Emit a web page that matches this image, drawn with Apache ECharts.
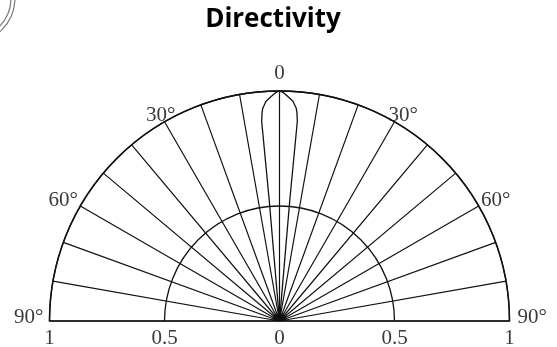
<!DOCTYPE html>
<html>
<head>
<meta charset="utf-8">
<script src="https://cdn.jsdelivr.net/npm/echarts@6/dist/echarts.min.js"></script>
<style>
html,body{margin:0;padding:0;background:#fff;}
#chart{width:557px;height:347px;}
</style>
</head>
<body>
<div id="chart"></div>
<script>
// Directivity lobe: angle from broadside (degrees) and normalized gain
const lobeAngles = [-4.4, -4.87, -5.1, -4.8, -4.5, -3.5, -2.13, -1.0, 0, 1.0, 2.13, 3.5, 4.5, 4.8, 5.1, 4.87, 4.4];
const lobeGain   = [0, 0.53, 0.872, 0.907, 0.928, 0.957, 0.977, 0.993, 1, 0.993, 0.977, 0.957, 0.928, 0.907, 0.872, 0.53, 0];

// Tick labels
const angleTickValues = [-90, -60, -30, 0, 30, 60, 90];
const angleTickLabels = ['90°', '60°', '30°', '0', '30°', '60°', '90°'];
const radiusTickValues = [0, 0.5, 1];
const radiusTickLabels = ['0', '0.5', '1'];

const ink = '#111';
const labelColor = '#3a3a3a';
const serif = 'Liberation Serif';
const labelSize = 21;

// per-label paddings (pull labels from an inner anchor out to their place)
const anglePads = [
  [0, 46, 8, 0],
  [0, 37, 15.5, 0],
  [0, 9, 30, 0],
  [0, 0, 47.5, 0],
  [0, 0, 30, 14],
  [0, 0, 15.5, 37],
  [0, 0, 8, 48]
];

const rich = {};
anglePads.forEach((p, i) => {
  rich['t' + i] = {padding: p, fontFamily: serif, fontSize: labelSize, color: labelColor};
});

const chart = echarts.init(document.getElementById('chart'), null, {renderer: 'canvas'});

const angleFmt = v => {
  const i = angleTickValues.indexOf(Math.round(v));
  return i >= 0 ? '{t' + i + '|' + angleTickLabels[i] + '}' : '';
};
const radiusFmt = v => {
  const i = radiusTickValues.indexOf(v);
  return i >= 0 ? radiusTickLabels[i] : '';
};

chart.setOption({
  animation: false,
  backgroundColor: '#fff',
  title: {
    text: 'Directivity',
    left: 268, top: 2, textAlign: 'center',
    textStyle: {fontFamily: 'Open Sans', fontWeight: 'bold', fontSize: 26, color: '#000'}
  },
  graphic: [
    {type: 'arc', shape: {cx: -30, cy: -2, r: 45, startAngle: 0, endAngle: Math.PI / 2}, style: {stroke: '#777', lineWidth: 1.2, fill: null}},
    {type: 'arc', shape: {cx: -30, cy: -2, r: 41, startAngle: 0, endAngle: Math.PI / 2}, style: {stroke: '#777', lineWidth: 1.2, fill: null}}
  ],
  polar: [
    {center: [279.5, 321], radius: 230},
    {center: [279.5, 321], radius: 230}
  ],
  angleAxis: [
    {
      polarIndex: 0, type: 'value', min: -90, max: 90, interval: 10,
      startAngle: 180, endAngle: 0, clockwise: true,
      axisLine: {show: true, lineStyle: {color: ink, width: 1.5}},
      axisTick: {show: false},
      splitLine: {show: true, lineStyle: {color: ink, width: 1.2}},
      axisLabel: {formatter: angleFmt, margin: -40, fontFamily: serif, fontSize: labelSize, color: labelColor, rich: rich}
    },
    {
      polarIndex: 1, type: 'value', min: -90, max: 90, interval: 10,
      startAngle: 0, endAngle: 180, clockwise: false, show: false,
      axisLine: {show: false}, axisTick: {show: false}, splitLine: {show: false}, axisLabel: {show: false}
    }
  ],
  radiusAxis: [
    {
      polarIndex: 0, type: 'value', min: 0, max: 1, interval: 0.5,
      axisLine: {show: true, lineStyle: {color: ink, width: 1.5}},
      axisTick: {show: false},
      splitLine: {show: true, lineStyle: {color: ink, width: 1.3}},
      axisLabel: {formatter: radiusFmt, margin: 7, fontFamily: serif, fontSize: labelSize, color: labelColor}
    },
    {
      polarIndex: 1, type: 'value', min: 0, max: 1, interval: 0.5,
      axisLine: {show: true, lineStyle: {color: ink, width: 1.5}},
      axisTick: {show: false},
      splitLine: {show: false},
      axisLabel: {formatter: v => (v === 0 ? '' : radiusFmt(v)), margin: -7, verticalAlign: 'top', fontFamily: serif, fontSize: labelSize, color: labelColor}
    }
  ],
  series: [
    {
      type: 'line', coordinateSystem: 'polar', polarIndex: 0,
      data: lobeGain.map((g, i) => [g, lobeAngles[i]]),
      symbol: 'none', smooth: false,
      lineStyle: {color: ink, width: 1.3}
    }
  ]
});
</script>
</body>
</html>
